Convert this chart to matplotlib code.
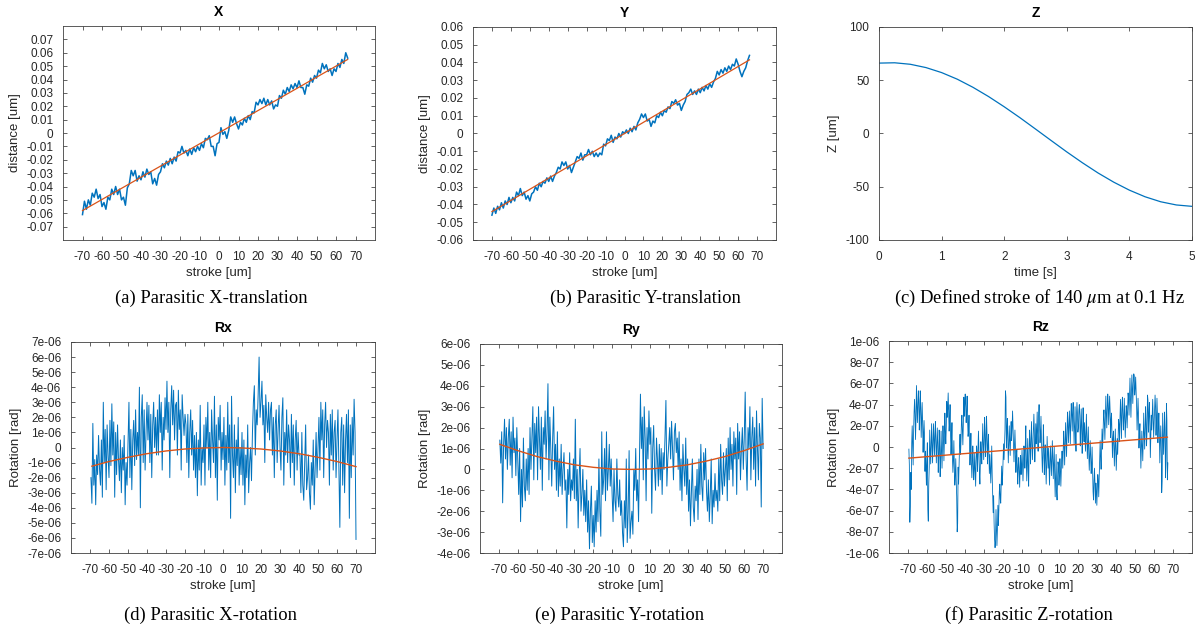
import matplotlib
matplotlib.use("Agg")
import matplotlib.pyplot as plt
import numpy as np
from matplotlib.ticker import FuncFormatter

plt.rcParams['font.family'] = ['Liberation Sans', 'DejaVu Sans']
plt.rcParams['axes.unicode_minus'] = False
plt.rcParams['mathtext.fontset'] = 'stix'

# --- data ----------------------------------------------------------------
# X translation [1e-3 um], stroke -70..66 um in 1 um steps
dist_x = [-61, -51, -57, -50, -54, -45, -48, -42, -49, -46,
          -55, -52, -57, -48, -50, -42, -46, -40, -46, -42,
          -50, -48, -54, -41, -38, -28, -32, -28, -36, -32,
          -35, -29, -33, -27, -31, -29, -38, -34, -39, -31,
          -29, -23, -26, -21, -24, -19, -23, -18, -21, -14,
          -15, -10, -15, -13, -17, -12, -16, -11, -14, -10,
          -13, -8, -11, -4, -5, -2, -10, -10, -17, -8,
          -7, 4, -1, 1, -4, 2, 12, 8, 12, 7,
          3, 8, 6, 11, 8, 13, 10, 16, 15, 23,
          21, 25, 22, 26, 21, 25, 21, 24, 18, 21,
          20, 28, 26, 32, 29, 34, 31, 36, 33, 37,
          34, 39, 34, 34, 29, 36, 35, 41, 38, 43,
          41, 47, 45, 52, 48, 51, 46, 48, 43, 48,
          46, 52, 49, 55, 52, 60, 56]
fit_x_stroke = [-70, 66]
fit_x = [-0.058, 0.055]

# Y translation [1e-3 um]
dist_y = [-46, -42, -45, -41, -43, -39, -42, -38, -40, -36,
          -39, -36, -38, -33, -35, -31, -35, -33, -37, -35,
          -38, -34, -33, -30, -32, -28, -30, -27, -28, -25,
          -27, -24, -27, -24, -22, -19, -20, -16, -18, -16,
          -20, -18, -22, -19, -16, -13, -14, -11, -15, -12,
          -12, -9, -12, -10, -13, -11, -13, -11, -12, -6,
          -7, -3, -4, -1, -5, -2, -3, 0, -2, 1,
          0, 2, 0, 3, 1, 4, 2, 6, 8, 11,
          9, 11, 7, 8, 4, 7, 6, 10, 9, 12,
          10, 13, 12, 15, 14, 18, 17, 19, 16, 17,
          13, 16, 18, 22, 23, 25, 22, 24, 22, 25,
          23, 26, 24, 27, 25, 28, 26, 29, 31, 35,
          33, 36, 34, 37, 35, 38, 36, 39, 38, 42,
          39, 35, 32, 35, 37, 41, 44]
fit_y_stroke = [-70, 66]
fit_y = [-0.044, 0.0415]

# Z stroke vs time
time_s = [0, 0.25, 0.5, 0.75, 1, 1.25, 1.5, 1.75, 2, 2.25, 2.5,
          2.75, 3, 3.25, 3.5, 3.75, 4, 4.25, 4.5, 4.75, 5]
z_um = [66.1, 66.4, 65.0, 61.9, 57.2, 51.0, 43.4, 34.7, 25.1, 14.9, 4.2,
        -6.6, -17.3, -27.5, -37.1, -45.7, -53.2, -59.4, -64.1, -67.1, -68.4]

# Rx rotation [1e-7 rad], stroke -69.5..70 um in 0.5 um steps
rot_x = [-20, -37, 16, -25, -8, -38, -5, -18, 8, -14,
         -25, 5, -33, 30, -10, 12, -28, 15, -5, -20,
         18, -12, 29, -5, 17, -33, 10, -18, 15, -8,
         -22, 5, -30, 0, -15, 8, -38, -10, -25, 2,
         30, -20, 12, -28, 5, 18, -12, 25, -8, 10,
         -5, 40, -40, 20, 35, -10, 25, -15, 10, 30,
         5, 28, -10, 22, -20, 15, 30, 0, 20, -5,
         25, -5, 35, 10, 30, -15, 20, 5, 33, 12,
         44, 10, 30, -20, 25, 41, 15, 38, 5, 28,
         30, -5, 38, 12, 25, -15, 35, 20, 8, 22,
         15, -10, 22, -20, 10, 25, -5, 18, -15, 8,
         -20, 10, -32, 5, -15, 28, -25, 0, -10, 15,
         -25, 20, 0, 30, -15, 10, -20, 25, 5, -10,
         34, -20, 15, -35, 20, 5, 28, -15, 10, -8,
         20, -25, 8, -15, 30, -10, 15, -47, 34, -5,
         -20, 15, -30, 5, -12, 20, -25, 0, -18, 10,
         -25, 5, -38, -5, -20, 15, -30, -10, 0, -22,
         10, 30, 41, -5, 25, 15, 35, 60, 20, 30,
         44, 15, 28, -10, 35, 20, 10, 30, 5, 25,
         30, -5, 20, -20, 15, 25, -10, 12, 28, 0,
         -15, 20, 33, -25, 10, -5, 25, -10, 15, 5,
         -20, 22, -10, 15, -25, 5, 18, -15, 10, -5,
         -5, -30, 10, -25, -35, -10, 15, -28, -20, -5,
         -30, -41, -10, -25, 5, -38, -15, 10, -20, 0,
         20, -15, 30, 5, 25, -20, 15, 30, 0, 18,
         10, -25, 22, -5, 25, -15, 10, 18, -20, 5,
         25, -15, -53, 10, 20, -25, 15, -30, 5, 22,
         -10, 25, -47, 15, -20, 20, -5, 32, 10, -61]
fit_rx_stroke = [-69, -60, -50, -40, -30, -20, -10, 0, 10, 20, 30, 40, 50, 60, 70]
fit_rx = [-1.24, -0.93, -0.65, -0.41, -0.23, -0.10, -0.03, 0, -0.03, -0.10,
          -0.23, -0.41, -0.65, -0.93, -1.27]  # 1e-6 rad

# Ry rotation [1e-7 rad]
rot_y = [14, 3, 18, -16, 12, 24, 5, 20, 0, 15,
         24, 2, 18, -4, 25, 8, 15, -3, 20, 5,
         -12, 10, -25, 0, -18, 15, -8, -15, 5, -10,
         10, -12, 20, 0, 15, 30, -5, 22, 8, 25,
         -5, 30, 15, 0, 25, -10, 20, 12, 28, 5,
         18, 41, -5, 25, 10, -8, 15, 30, 0, 12,
         -10, 18, -13, 5, -8, 12, -12, 0, 8, -10,
         -5, -28, 0, -12, 8, -15, -5, -10, 5, -14,
         24, -15, 0, -28, -5, 10, -20, -12, 0, -22,
         -10, -25, -5, -30, -15, -38, -20, -8, -35, -22,
         -37, -15, -30, -10, -25, 5, -20, -32, 18, -12,
         -5, 10, -15, 18, -10, 0, 12, -8, 5, -12,
         -25, 0, -15, -20, 5, -12, -18, -5, -22, -15,
         -30, -37, -15, -28, 5, -35, -20, 9, -33, -25,
         -20, -31, 0, -10, 10, -15, -5, -25, 5, 36,
         10, 25, -5, 30, 15, -15, 20, 5, 28, 12,
         20, -21, 10, 21, 0, -10, 15, 5, -8, 12,
         -5, 10, -12, 8, 0, 15, 33, -8, 5, 12,
         20, 5, 23, 10, -5, 18, 22, 8, 15, 0,
         18, -10, 5, -15, 12, 0, -8, 15, -12, 5,
         -20, -5, -27, -10, 5, -18, -25, -8, -15, 0,
         -24, 5, -12, 12, -8, -15, 8, -5, 10, -10,
         -20, -5, -25, -12, 5, -26, -10, -18, -2, -15,
         -10, -20, 5, -15, 12, -5, -12, 8, -8, 0,
         10, -15, 15, -5, 20, 0, 12, -8, 18, 5,
         15, -12, 22, 5, 18, -5, 10, 20, 0, 15,
         37, 5, -10, 20, 10, 30, -5, 15, 25, 0,
         20, -8, 28, 10, -5, 22, 15, -18, 34, 10]
fit_ry_stroke = [-69.5, -60, -50, -40, -30, -20, -10, 0, 10, 20, 30, 40, 50, 60, 70]
fit_ry = [1.20, 0.90, 0.62, 0.40, 0.22, 0.10, 0.02, 0, 0.02, 0.10,
          0.22, 0.40, 0.62, 0.90, 1.22]  # 1e-6 rad

# Rz rotation [1e-8 rad], stroke -69.5..67.25 um in 0.25 um steps
rot_z = [-2, -17, -71, -56, -24, -40, 4, 20, 2, -17, 15, 33, 45, 31, 7, 26, 58, 42, 23, 39,
         53, 44, 16, 31, 53, 37, 9, 25, 42, 23, -5, 13, 25, 11, -23, -4, -18, -36, -12, 4,
         -59, -70, -34, -19, 16, 0, -16, 0, 22, 3, -15, 3, 22, 8, -8, 11, 24, 6, -15, 1,
         18, 3, -24, -9, 16, 0, -28, -12, 15, -4, -20, -2, 20, 6, -13, 6, 32, 14, 3, 19,
         43, 28, 36, 51, 31, 15, 24, 40, 12, -7, 5, 23, -10, -24, -13, 6, -18, -36, -27, -11,
         -32, -47, -80, -72, -19, -35, -16, 0, 12, -7, 5, 23, 30, 16, 2, 21, 47, 29, 41, 50,
         38, 23, 33, 48, 26, 10, 14, 30, 2, -17, -5, 13, -15, -29, -18, 1, -13, -31, -22, -6,
         -22, -37, -14, 1, -7, -23, -1, 15, -5, -24, -35, -17, 5, -9, -16, 3, 22, 4, -12, 4,
         28, 13, -9, 6, 29, 13, -16, 0, 12, -7, -25, -7, -20, -34, -18, 1, -28, -46, -62, -46,
         -72, -87, -95, -89, -59, -75, -93, -78, -55, -74, -60, -42, -35, -49, -53, -34, -18, -36, -27, -11,
         3, -12, 1, 16, 53, 47, -1, 15, 27, 8, -15, 3, 20, 6, -8, 11, 24, 6, 18, 34,
         18, 3, -14, 1, 16, 0, -24, -8, -3, -22, -35, -17, -10, -24, -38, -19, -8, -26, -19, -3,
         -17, -32, -14, 1, -4, -20, 4, 20, -13, -32, -10, 8, -23, -37, -3, 16, 2, -16, 8, 24,
         3, -12, 1, 16, 31, 15, -14, 2, 22, 3, 15, 33, 10, -4, 29, 40, 22, 4, 13, 29,
         8, -7, -24, -9, 21, 5, -26, -10, 2, -17, -35, -17, 10, -4, -20, -1, -18, -36, -15, 1,
         -12, -27, -9, 6, -14, -30, -16, 0, -28, -47, -25, -7, -42, -50, -33, -14, -18, -36, -27, -11,
         -22, -37, -19, -4, -4, -20, -1, 15, 2, -17, 5, 23, 5, -9, 14, 33, 22, 4, 18, 34,
         18, 3, 26, 41, 31, 15, 34, 42, 22, 3, 20, 38, 10, -4, 30, 42, 32, 14, 18, 34,
         40, 30, 1, 16, 36, 20, -6, 10, 37, 18, 5, 23, 10, -4, 12, 31, 7, -11, 3, 19,
         -7, -22, -9, 6, -9, -25, -16, 0, -23, -42, -50, -32, -20, -34, -53, -34, -43, -55, -42, -26,
         -32, -47, -29, -14, 6, -10, -21, -5, 17, -2, 10, 28, 35, 21, 7, 26, 48, 34, 18, 34,
         50, 41, 21, 36, 48, 35, 9, 25, 32, 13, -10, 8, 15, 1, -18, 1, 17, -1, -22, -6,
         8, -7, 11, 26, 21, 5, 29, 45, 27, 8, 36, 47, 30, 16, 27, 46, 27, 9, 23, 39,
         33, 18, 36, 51, 46, 30, 49, 65, 47, 28, 50, 68, 55, 41, 60, 69, 67, 49, 55, 66,
         53, 38, 16, 31, 46, 30, -1, 15, 22, 3, -20, -2, 15, 1, -13, 6, 32, 14, -2, 14,
         38, 23, 1, 16, 49, 44, 14, 30, 42, 23, -10, 8, 30, 16, 32, 45, 27, 9, 23, 39,
         49, 38, 11, 26, 46, 30, 4, 20, 32, 13, -15, 3, 20, 6, -43, -32, 32, 14, -7, 9,
         33, 18, -29, -14, 41, 25, -31, -15]
fit_rz_stroke = [-69.5, 67]
fit_rz = [-1.05e-7, 0.93e-7]

BLUE = '#0072BD'
ORANGE = '#D95319'
DARK = '#262626'


def fmt(v, pos):
    if abs(v) < 1e-15:
        return '0'
    return f'{v:g}'


def style(ax, title, xlabel, ylabel):
    ax.set_title(title, fontweight='bold', fontsize=10, pad=7, color='black')
    ax.set_xlabel(xlabel, fontsize=9.5, color=DARK, labelpad=3)
    ax.set_ylabel(ylabel, fontsize=9.5, color=DARK, labelpad=4)
    ax.tick_params(direction='in', top=True, right=True, length=3, width=0.5,
                   labelsize=8.5, colors=DARK)
    ax.tick_params(axis='x', pad=8)
    ax.tick_params(axis='y', pad=7)
    for sp in ax.spines.values():
        sp.set_linewidth(0.6)
        sp.set_color('#404040')
    ax.yaxis.set_major_formatter(FuncFormatter(fmt))


W, H = 1202, 633


def axes_px(fig, x0, y0, x1, y1):
    return fig.add_axes([x0 / W, 1 - y1 / H, (x1 - x0) / W, (y1 - y0) / H])


fig = plt.figure(figsize=(12.02, 6.33), dpi=100)

stroke_ticks = list(range(-70, 71, 10))

# (a) X
ax = axes_px(fig, 63, 26, 375, 240)
s = np.arange(len(dist_x)) - 70
ax.plot(s, np.array(dist_x) * 1e-3, color=BLUE, lw=1.1)
ax.plot(fit_x_stroke, fit_x, color=ORANGE, lw=0.9)
ax.set_xlim(-80, 80)
ax.set_ylim(-0.08, 0.08)
ax.set_xticks(stroke_ticks)
ax.set_yticks(np.arange(-7, 8) * 0.01)
style(ax, 'X', 'stroke [um]', 'distance [um]')

# (b) Y
ax = axes_px(fig, 473, 27, 776, 240)
s = np.arange(len(dist_y)) - 70
ax.plot(s, np.array(dist_y) * 1e-3, color=BLUE, lw=1.1)
ax.plot(fit_y_stroke, fit_y, color=ORANGE, lw=0.9)
ax.set_xlim(-80, 80)
ax.set_ylim(-0.06, 0.06)
ax.set_xticks(stroke_ticks)
ax.set_yticks(np.arange(-6, 7) * 0.01)
style(ax, 'Y', 'stroke [um]', 'distance [um]')

# (c) Z
ax = axes_px(fig, 879, 27, 1192, 240)
ax.plot(time_s, z_um, color=BLUE, lw=0.9)
ax.set_xlim(0, 5)
ax.set_ylim(-100, 100)
ax.set_xticks(range(0, 6))
ax.set_yticks([-100, -50, 0, 50, 100])
style(ax, 'Z', 'time [s]', 'Z [um]')

# (d) Rx
ax = axes_px(fig, 71, 342, 375, 553)
s = -69.5 + 0.5 * np.arange(len(rot_x))
ax.plot(s, np.array(rot_x) * 1e-7, color=BLUE, lw=0.7)
ax.plot(fit_rx_stroke, np.array(fit_rx) * 1e-6, color=ORANGE, lw=1.0)
ax.set_xlim(-80, 80)
ax.set_ylim(-7e-6, 7e-6)
ax.set_xticks(stroke_ticks)
ax.set_yticks(np.arange(-7, 8) * 1e-6)
style(ax, 'Rx', 'stroke [um]', 'Rotation [rad]')

# (e) Ry
ax = axes_px(fig, 480, 344, 782, 553)
s = -69.5 + 0.5 * np.arange(len(rot_y))
ax.plot(s, np.array(rot_y) * 1e-7, color=BLUE, lw=0.7)
ax.plot(fit_ry_stroke, np.array(fit_ry) * 1e-6, color=ORANGE, lw=1.0)
ax.set_xlim(-80, 80)
ax.set_ylim(-4e-6, 6e-6)
ax.set_xticks(stroke_ticks)
ax.set_yticks(np.arange(-4, 7) * 1e-6)
style(ax, 'Ry', 'stroke [um]', 'Rotation [rad]')

# (f) Rz
ax = axes_px(fig, 889, 341, 1192, 553)
s = -69.5 + 0.25 * np.arange(len(rot_z))
ax.plot(s, np.array(rot_z) * 1e-8, color=BLUE, lw=0.6)
ax.plot(fit_rz_stroke, fit_rz, color=ORANGE, lw=1.0)
ax.set_xlim(-80, 80)
ax.set_ylim(-1e-6, 1e-6)
ax.set_xticks(stroke_ticks)
ax.set_yticks(np.arange(-5, 6) * 2e-7)
style(ax, 'Rz', 'stroke [um]', 'Rotation [rad]')

# sub-figure captions
captions = [
    (211, 298, '(a) Parasitic X-translation'),
    (645, 298, '(b) Parasitic Y-translation'),
    (1040, 298, r'(c) Defined stroke of 140 $\mu$m at 0.1 Hz'),
    (211, 615, '(d) Parasitic X-rotation'),
    (620, 615, '(e) Parasitic Y-rotation'),
    (1029, 615, '(f) Parasitic Z-rotation'),
]
for cx, cy, txt in captions:
    fig.text(cx / W, 1 - cy / H, txt, ha='center', va='center',
             family='Liberation Serif', fontsize=13.4, color='black')

fig.savefig('out.png', dpi=100)
